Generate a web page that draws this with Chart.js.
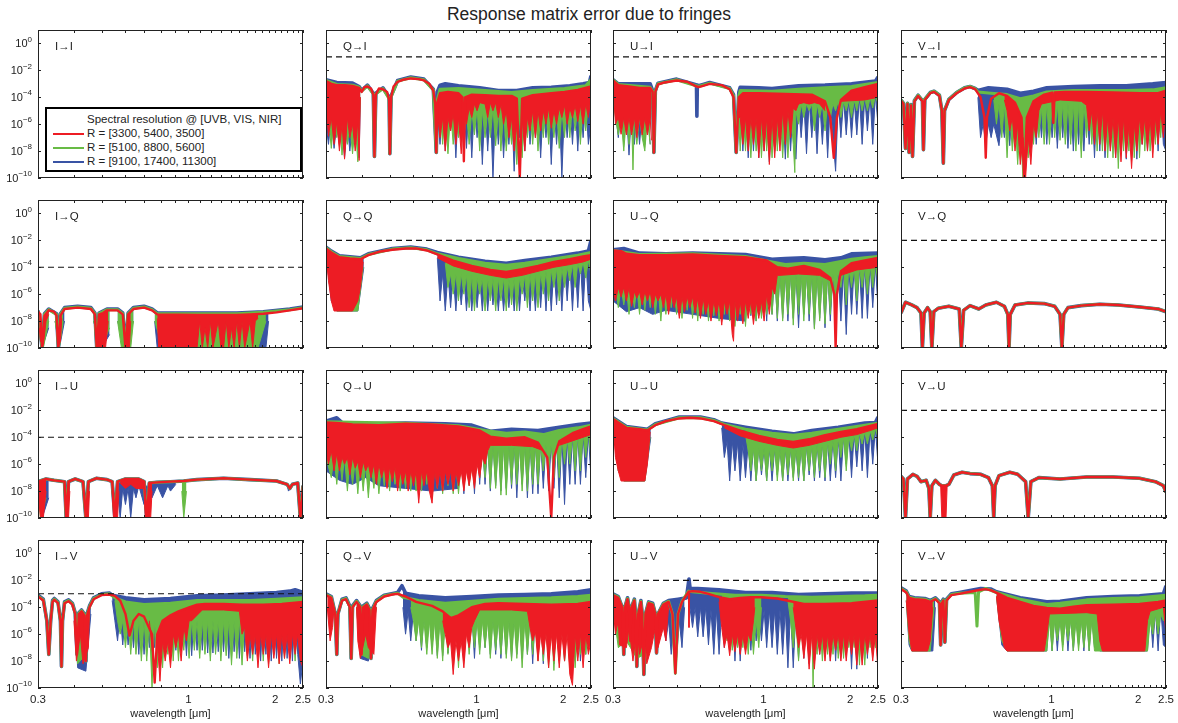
<!DOCTYPE html>
<html>
<head>
<meta charset="utf-8">
<script src="https://cdn.jsdelivr.net/npm/chart.js@4.4.0/dist/chart.umd.min.js"></script>
<style>
  body { margin: 0; background: #fff; width: 1178px; height: 723px; position: relative; overflow: hidden;
         font-family: "Liberation Sans", Arial, sans-serif; color: #222; }
  canvas { position: absolute; }
  #title { position: absolute; left: 0; top: 4px; width: 1178px; text-align: center; font-size: 17.5px; }
  #legend { position: absolute; left: 45px; top: 107px; width: 257px; height: 65px; box-sizing: border-box;
            border: 2px solid #000; background: #fff; font-size: 11.5px; z-index: 5; }
  #legend div { position: absolute; left: 40px; white-space: nowrap; line-height: 14px; }
  #legend span { position: absolute; left: 6px; width: 31px; height: 2px; }
</style>
</head>
<body>
<div id="title">Response matrix error due to fringes</div>
<div id="legend">
  <div style="top:3px">Spectral resolution @ [UVB, VIS, NIR]</div>
  <span style="top:24px;background:rgb(237,28,36)"></span><div style="top:17px">R = [3300, 5400, 3500]</div>
  <span style="top:38px;background:rgb(104,187,69)"></span><div style="top:31px">R = [5100, 8800, 5600]</div>
  <span style="top:52px;background:rgb(57,83,164)"></span><div style="top:45px">R = [9100, 17400, 11300]</div>
</div>
<script>
// panel names, row = output Stokes, column = input Stokes
const LABELS = ['I→I','Q→I','U→I','V→I','I→Q','Q→Q','U→Q','V→Q','I→U','Q→U','U→U','V→U','I→V','Q→V','U→V','V→V'];
// dashed tolerance level per panel, log10
const DASH_EXP = [null,-1,-1,-1, -4,-2,-2,-2, -4,-2,-2,-2, -3,-2,-2,-2];
const XTICKS = [0.3,0.4,0.5,0.6,0.7,0.8,0.9,1,1.1,1.2,1.3,1.4,1.5,1.6,1.7,1.8,1.9,2,2.1,2.2,2.3,2.4,2.5];
const XLABELS = [0.3, 1, 2, 2.5];
const YTICK_EXP = [0,-2,-4,-6,-8,-10];

// [wavelength um, log10 error]; *_t = upper envelope, *_b = lower edge of the fringe forest (null = gap)
const QI_rt = [[0.300,-2.8],[0.313,-3.0],[0.327,-3.1],[0.348,-3.1],[0.371,-3.15],[0.391,-3.3],[0.399,-3.6],[0.408,-3.25],[0.418,-3.2],[0.430,-3.35],[0.438,-3.8],[0.442,-8.4],[0.447,-3.8],[0.458,-3.35],[0.473,-3.4],[0.489,-3.6],[0.497,-4.2],[0.500,-8.2],[0.505,-4.0],[0.515,-3.2],[0.532,-2.85],[0.555,-2.7],[0.591,-2.6],[0.630,-2.65],[0.657,-2.75],[0.686,-3.0],[0.708,-3.5],[0.719,-4.5],[0.725,-8.1],[0.731,-4.4],[0.747,-3.7],[0.796,-3.6],[0.866,-3.7],[0.894,-4.0],[0.904,-8.75],[0.913,-4.0],[0.963,-3.8],[1.071,-3.85],[1.191,-3.9],[1.324,-3.9],[1.381,-4.1],[1.414,-10],[1.441,-4.1],[1.568,-3.85],[1.819,-3.7],[2.023,-3.6],[2.249,-3.45],[2.500,-3.2]];
const QI_rb = [[0.300,-4.5],[0.306,-6.9],[0.313,-5.5],[0.320,-7.5],[0.327,-5.8],[0.334,-8.0],[0.341,-6.0],[0.348,-8.6],[0.356,-5.5],[0.363,-7.0],[0.371,-6.0],[0.379,-8.0],[0.387,-5.8],[0.391,-8.7],[0.395,-4.0],[0.398,null],
  [0.731,-5],[0.747,-7.0],[0.763,-5.5],[0.779,-8.0],[0.796,-5.5],[0.813,-6.5],[0.830,-5.2],[0.848,-7.5],[0.866,-5.5],[0.885,-8.2],[0.904,-5.0],[0.923,-6.0],[0.943,-4.8],[0.963,-5.5],[0.984,-4.5],[1.005,-5.0],[1.026,-4.4],[1.071,-4.5],[1.094,-5.5],[1.117,-4.4],[1.141,-5.0],[1.166,-4.4],[1.191,-5.5],[1.216,-4.5],[1.242,-6.0],[1.269,-5.0],[1.296,-7.0],[1.324,-5.5],[1.352,-8.0],[1.381,-6.0],[1.411,-9.0],[1.441,-5.5],[1.472,-8.0],[1.503,-5.5],[1.535,-6.5],[1.568,-5.0],[1.602,-7.0],[1.636,-5.0],[1.671,-6.5],[1.707,-5.0],[1.744,-6.0],[1.781,-4.8],[1.819,-6.3],[1.858,-5.0],[1.898,-6.0],[1.939,-4.8],[1.980,-5.5],[2.023,-4.6],[2.066,-6.0],[2.110,-4.8],[2.156,-5.5],[2.202,-4.6],[2.249,-5.8],[2.297,-4.6],[2.347,-6.0],[2.397,-4.5],[2.448,-5.5],[2.500,-4.0]];
const QI_gt = [[0.300,-2.75],[0.327,-3.05],[0.371,-3.1],[0.391,-3.25],[0.399,-3.55],[0.418,-3.15],[0.438,-3.75],[0.442,-8.4],[0.447,-3.75],[0.473,-3.35],[0.497,-4.1],[0.500,-8.2],[0.505,-3.95],[0.532,-2.8],[0.591,-2.55],[0.657,-2.7],[0.708,-3.45],[0.725,-8.1],[0.731,-4.2],[0.747,-3.4],[0.866,-3.35],[1.071,-3.5],[1.324,-3.65],[1.568,-3.5],[2.023,-3.35],[2.397,-3.15],[2.500,-2.7]];
const QI_gb = [[0.300,-5.0],[0.306,-5.5],[0.313,-7.8],[0.320,-5.5],[0.327,-7.0],[0.334,-5.5],[0.341,-8.3],[0.348,-6.0],[0.356,-7.5],[0.363,-6.0],[0.371,-8.2],[0.379,-6.0],[0.387,-8.8],[0.395,-4.0],[0.398,null],
  [0.731,-5],[0.747,-5.0],[0.763,-7.5],[0.779,-5.0],[0.796,-8.2],[0.813,-5.0],[0.830,-7.5],[0.848,-5.2],[0.866,-7.0],[0.885,-5.0],[0.904,-7.0],[0.923,-5.0],[0.943,-7.5],[0.963,-5.0],[0.984,-6.8],[1.005,-4.8],[1.026,-8.0],[1.048,-5.0],[1.071,-7.0],[1.094,-5.0],[1.117,-7.0],[1.141,-4.8],[1.166,-7.6],[1.191,-5.0],[1.216,-8.0],[1.242,-5.0],[1.269,-8.0],[1.296,-5.5],[1.324,-7.5],[1.352,-5.5],[1.381,-9.0],[1.411,-5.5],[1.441,-8.5],[1.472,-5.0],[1.503,-7.0],[1.535,-5.0],[1.568,-7.5],[1.602,-4.8],[1.636,-8.0],[1.671,-5.0],[1.707,-7.0],[1.744,-4.8],[1.781,-7.5],[1.819,-5.0],[1.858,-7.0],[1.898,-4.8],[1.939,-7.8],[1.980,-5.0],[2.023,-7.0],[2.066,-4.6],[2.110,-7.0],[2.156,-4.6],[2.202,-6.5],[2.249,-4.6],[2.297,-7.5],[2.347,-4.5],[2.397,-6.5],[2.448,-4.5],[2.500,-5]];
const QI_bt = [[0.300,-2.7],[0.327,-2.9],[0.371,-2.95],[0.391,-3.2],[0.399,-3.5],[0.418,-3.1],[0.438,-3.7],[0.442,-8.4],[0.447,-3.7],[0.473,-3.3],[0.497,-4.0],[0.500,-8.2],[0.505,-3.9],[0.532,-2.75],[0.591,-2.5],[0.657,-2.65],[0.708,-3.4],[0.725,-8.1],[0.731,-3.6],[0.747,-3.1],[0.779,-3.0],[0.866,-3.15],[1.026,-3.3],[1.191,-3.5],[1.381,-3.5],[1.568,-3.3],[1.819,-3.25],[2.110,-3.15],[2.347,-3.0],[2.470,-2.9],[2.500,-2.4]];
const QI_bb = [[0.300,-6],[0.306,-7.5],[0.313,-5.5],[0.320,-7.8],[0.327,-6],[0.334,-7.5],[0.341,-6],[0.348,-8.5],[0.356,-6],[0.363,-8.0],[0.371,-6],[0.379,-7.5],[0.387,-6],[0.391,-8.5],[0.395,-4],[0.398,null],
  [0.731,-5],[0.747,-7.5],[0.763,-4.5],[0.779,-8.0],[0.796,-4.5],[0.813,-6.5],[0.830,-4.5],[0.848,-8.5],[0.866,-4.5],[0.885,-7.0],[0.904,-4.5],[0.923,-7.8],[0.943,-4.5],[0.963,-8.5],[0.984,-4.5],[1.005,-7.0],[1.026,-4.3],[1.048,-9.0],[1.071,-4.5],[1.094,-8.0],[1.117,-4.5],[1.141,-10],[1.166,-4.5],[1.191,-7.5],[1.216,-4.5],[1.242,-8.5],[1.269,-4.5],[1.296,-7.5],[1.324,-4.5],[1.352,-9.5],[1.381,-4.5],[1.411,-7.0],[1.441,-4.5],[1.472,-8.0],[1.503,-4.5],[1.535,-7.5],[1.568,-4.5],[1.602,-7.0],[1.636,-4.5],[1.671,-8.5],[1.707,-4.5],[1.744,-7.0],[1.781,-4.5],[1.819,-9.0],[1.858,-4.5],[1.898,-7.5],[1.939,-4.5],[1.980,-10],[2.023,-4.5],[2.066,-7.0],[2.110,-4.3],[2.156,-7.5],[2.202,-4.3],[2.249,-8.0],[2.297,-4.3],[2.347,-7.0],[2.397,-4.2],[2.448,-7.5],[2.500,-6]];

const UI_rt = [[0.300,-2.75],[0.313,-3.1],[0.341,-3.2],[0.371,-3.3],[0.404,-3.3],[0.412,-3.6],[0.416,-8.1],[0.421,-3.6],[0.430,-3.05],[0.453,-2.9],[0.499,-2.75],[0.543,-2.85],[0.579,-3.15],[0.595,-3.25],[0.617,-3.15],[0.650,-3.0],[0.716,-3.1],[0.763,-3.4],[0.787,-4.0],[0.804,-8.1],[0.821,-4.0],[0.848,-3.7],[0.963,-3.7],[1.191,-3.75],[1.472,-3.8],[1.636,-4.3],[1.707,-5.5],[1.755,-8.5],[1.800,-5.5],[1.858,-4.2],[2.023,-3.5],[2.249,-3.25],[2.500,-3.0]];
const UI_rb = [[0.300,-3.0],[0.306,-6.0],[0.313,-5.5],[0.320,-6.75],[0.327,-5.5],[0.334,-6.8],[0.341,-5.5],[0.348,-6.8],[0.356,-5.5],[0.363,-7.0],[0.371,-5.5],[0.379,-6.8],[0.387,-5.5],[0.395,-6.8],[0.404,-5.5],[0.408,-7.2],[0.412,null],
  [0.821,-5.5],[0.830,-5.5],[0.848,-7.5],[0.866,-5.5],[0.885,-8.0],[0.904,-5.5],[0.923,-7.5],[0.943,-5.5],[0.963,-8.5],[0.984,-5.5],[1.005,-8.0],[1.026,-5.5],[1.048,-9.0],[1.071,-5.5],[1.094,-8.5],[1.117,-5.5],[1.141,-8.0],[1.166,-5.0],[1.191,-7.5],[1.216,-5.0],[1.242,-7.0],[1.269,-4.8],[1.296,-5.0],[1.324,-4.5],[1.381,-4.4],[1.441,-4.5],[1.503,-4.4],[1.568,-4.5],[1.636,-5.0],[1.680,null],[1.858,-4.3],[2.249,-4.2],[2.500,-4.0]];
const UI_gt = [[0.300,-2.7],[0.313,-3.05],[0.404,-3.25],[0.412,-3.55],[0.416,-8.1],[0.421,-3.55],[0.430,-3.0],[0.499,-2.7],[0.595,-3.2],[0.650,-2.95],[0.763,-3.35],[0.787,-3.9],[0.804,-8.1],[0.821,-3.9],[0.830,-3.5],[1.071,-3.55],[1.324,-3.4],[1.636,-3.3],[2.023,-3.2],[2.500,-2.9]];
const UI_gb = [[0.300,-4],[0.306,-5.5],[0.313,-6.8],[0.320,-5.5],[0.327,-8.0],[0.334,-5.5],[0.341,-7.5],[0.348,-5.5],[0.352,-9.4],[0.356,-5.5],[0.363,-7.5],[0.371,-5.5],[0.379,-7.0],[0.387,-8.0],[0.395,-5.5],[0.404,-7.5],[0.412,null],
  [0.821,-6],[0.830,-8.0],[0.848,-5.0],[0.866,-8.0],[0.885,-5.0],[0.904,-8.5],[0.923,-5.0],[0.943,-8.0],[0.963,-5.0],[0.984,-8.5],[1.005,-5.0],[1.026,-8.0],[1.048,-5.0],[1.071,-8.5],[1.094,-5.0],[1.117,-8.0],[1.141,-5.0],[1.166,-8.5],[1.191,-5.0],[1.216,-8.5],[1.242,-5.0],[1.269,-7.5],[1.285,-9.6],[1.296,-5.0],[1.324,-6.0],[1.352,-4.5],[1.381,-5.5],[1.411,-4.5],[1.441,-5.0],[1.472,-4.5],[1.503,-6.5],[1.535,-4.5],[1.568,-5.5],[1.602,-4.5],[1.636,-6.5],[1.671,-4.5],[1.707,-5.5],[1.744,-4.5],[1.781,-5.0],[1.819,-4.3],[1.858,-5.5],[1.898,-4.3],[1.939,-5.0],[1.980,-4.2],[2.023,-5.5],[2.066,-4.2],[2.110,-5.0],[2.156,-4.0],[2.202,-5.0],[2.249,-4.0],[2.297,-5.0],[2.347,-4.0],[2.397,-4.8],[2.448,-3.9],[2.500,-4.5]];
const UI_bt = [[0.300,-2.7],[0.313,-3.0],[0.404,-3.0],[0.412,-3.5],[0.416,-8.1],[0.421,-3.5],[0.430,-2.95],[0.499,-2.65],[0.579,-3.05],[0.585,-3.1],[0.587,-5.4],[0.589,-3.1],[0.595,-3.15],[0.617,-3.05],[0.650,-2.9],[0.763,-3.3],[0.787,-3.8],[0.804,-8.1],[0.821,-3.6],[0.830,-3.25],[0.963,-3.3],[1.071,-3.35],[1.324,-3.15],[1.636,-3.1],[2.023,-3.0],[2.448,-2.8],[2.500,-2.5]];
const UI_bb = [[0.300,-4],[0.306,-5.0],[0.313,-7.0],[0.320,-5.0],[0.327,-7.0],[0.334,-5.0],[0.341,-8.3],[0.348,-5.0],[0.356,-7.5],[0.363,-5.0],[0.371,-7.5],[0.379,-5.0],[0.387,-7.5],[0.395,-5.0],[0.404,-7.5],[0.412,null],
  [0.821,-6],[0.830,-4.5],[0.848,-8.0],[0.866,-4.5],[0.885,-8.5],[0.904,-4.5],[0.923,-8.0],[0.943,-4.5],[0.963,-8.5],[0.984,-4.5],[1.005,-8.0],[1.026,-4.5],[1.048,-8.8],[1.071,-4.5],[1.094,-8.0],[1.117,-4.5],[1.141,-7.5],[1.166,-4.5],[1.191,-8.6],[1.216,-4.5],[1.242,-8.0],[1.269,-4.5],[1.296,-8.6],[1.324,-4.5],[1.352,-7.0],[1.381,-4.3],[1.411,-8.2],[1.441,-4.3],[1.472,-7.0],[1.503,-4.3],[1.535,-8.2],[1.568,-4.3],[1.602,-7.5],[1.636,-4.3],[1.671,-8.5],[1.707,-4.3],[1.744,-7.0],[1.781,-9.5],[1.819,-4.3],[1.858,-7.0],[1.898,-4.2],[1.939,-6.8],[1.980,-4.2],[2.023,-7.0],[2.066,-4.2],[2.110,-6.8],[2.156,-4.0],[2.202,-7.5],[2.249,-4.0],[2.297,-6.5],[2.347,-4.0],[2.397,-7.5],[2.448,-3.8],[2.500,-6]];

const VI_rt = [[0.300,-4.25],[0.306,-4.5],[0.311,-7.8],[0.316,-4.5],[0.320,-8.1],[0.325,-4.6],[0.329,-8.4],[0.334,-4.3],[0.344,-3.9],[0.356,-4.3],[0.359,-7.9],[0.363,-4.2],[0.379,-3.7],[0.391,-3.6],[0.408,-3.9],[0.416,-5],[0.421,-8.9],[0.425,-5],[0.440,-4.2],[0.468,-3.7],[0.499,-3.35],[0.521,-3.25],[0.543,-3.4],[0.567,-4.0],[0.585,-5.5],[0.591,-8.5],[0.597,-5.5],[0.617,-4.1],[0.657,-3.7],[0.701,-3.9],[0.747,-4.4],[0.787,-5.5],[0.804,-10],[0.821,-5.5],[0.866,-4.3],[0.943,-3.8],[1.005,-3.65],[1.015,-5.9],[1.026,-3.65],[1.117,-3.6],[1.324,-3.6],[1.636,-3.65],[2.023,-3.7],[2.347,-3.7],[2.500,-3.5]];
const VI_rb = [[0.686,-4.2],[0.701,-5.0],[0.716,-6.5],[0.731,-5.5],[0.747,-8.0],[0.763,-6.0],[0.779,-9.0],[0.796,-7.0],[0.813,-10],[0.830,-7.0],[0.848,-9.0],[0.866,-6.0],[0.885,-7.0],[0.904,-5.0],[0.923,-4.5],[1.071,-4.2],[1.269,-4.3],[1.324,-4.6],[1.352,-6.5],[1.381,-5.0],[1.411,-7.5],[1.441,-5.0],[1.472,-7.5],[1.503,-5.0],[1.535,-8.0],[1.568,-5.5],[1.602,-8.0],[1.636,-5.5],[1.671,-8.5],[1.707,-5.5],[1.744,-8.8],[1.781,-5.5],[1.819,-8.5],[1.858,-6.0],[1.898,-9.3],[1.939,-6.0],[1.980,-8.0],[2.023,-5.5],[2.066,-7.5],[2.110,-5.5],[2.156,-8.0],[2.202,-5.5],[2.249,-8.5],[2.297,-5.5],[2.347,-7.5],[2.397,-5.0],[2.448,-7],[2.500,-4.5]];
const VI_gt = [[0.300,-4.2],[0.306,-4.45],[0.311,-7.8],[0.316,-4.45],[0.320,-8.1],[0.325,-4.55],[0.329,-8.4],[0.334,-4.25],[0.344,-3.85],[0.356,-4.25],[0.359,-7.9],[0.363,-4.15],[0.379,-3.65],[0.391,-3.55],[0.408,-3.85],[0.416,-5],[0.421,-8.9],[0.425,-5],[0.440,-4.15],[0.468,-3.65],[0.499,-3.3],[0.521,-3.2],[0.543,-3.35],[0.555,-3.6],[0.617,-3.7],[0.701,-3.8],[0.779,-4.1],[0.866,-3.9],[0.963,-3.6],[1.191,-3.5],[1.472,-3.5],[1.819,-3.5],[2.249,-3.45],[2.500,-3.3]];
const VI_gb = [[0.630,-4.2],[0.644,-6.0],[0.657,-4.5],[0.672,-7.0],[0.686,-4.5],[0.701,-8.5],[0.716,-5.0],[0.731,-8.0],[0.747,-5.5],[0.763,-9.0],[0.779,-6.0],[0.796,-10],[0.813,-6.0],[0.830,-8.5],[0.848,-5.5],[0.866,-7.5],[0.885,-5.0],[0.904,-7.0],[0.923,-4.8],[0.943,-7.5],[0.963,-4.5],[0.984,-7.5],[1.005,-4.5],[1.026,-7.0],[1.048,-4.5],[1.071,-7.2],[1.094,-4.5],[1.117,-7.5],[1.141,-4.5],[1.166,-7.5],[1.191,-4.5],[1.216,-8.0],[1.242,-4.5],[1.269,-8.5],[1.296,-4.5],[1.324,-7.0],[1.352,-4.5],[1.381,-7.5],[1.411,-4.5],[1.441,-8.0],[1.472,-4.5],[1.503,-8.0],[1.535,-4.5],[1.568,-8.5],[1.602,-4.5],[1.636,-8.5],[1.671,-4.5],[1.707,-9.3],[1.744,-4.5],[1.781,-8.0],[1.819,-4.5],[1.858,-8.0],[1.898,-4.5],[1.939,-8.5],[1.980,-4.5],[2.023,-8.5],[2.066,-4.5],[2.110,-8.0],[2.156,-4.5],[2.202,-8.0],[2.249,-4.5],[2.297,-7.5],[2.347,-4.3],[2.397,-7.0],[2.448,-4.2],[2.500,-6]];
const VI_bt = [[0.300,-4.2],[0.306,-4.45],[0.311,-7.8],[0.316,-4.45],[0.320,-8.1],[0.325,-4.55],[0.329,-8.4],[0.334,-4.25],[0.344,-3.85],[0.356,-4.25],[0.359,-7.9],[0.363,-4.15],[0.379,-3.65],[0.391,-3.55],[0.408,-3.85],[0.416,-5],[0.421,-8.9],[0.425,-5],[0.440,-4.15],[0.468,-3.65],[0.499,-3.3],[0.521,-3.2],[0.543,-3.35],[0.555,-3.5],[0.604,-3.3],[0.701,-3.4],[0.779,-3.7],[0.866,-3.55],[0.963,-3.3],[1.191,-3.2],[1.472,-3.15],[1.819,-3.15],[2.249,-3.0],[2.500,-2.9]];
const VI_bb = [[0.555,-4],[0.567,-7.0],[0.579,-6.0],[0.591,-7.5],[0.604,-6.0],[0.617,-7.0],[0.630,-6.0],[0.657,-7.6],[0.672,-5.5],[0.686,-7.0],[0.701,-4.5],[0.716,-7.6],[0.731,-4.5],[0.747,-7.0],[0.763,-4.8],[0.779,-7.5],[0.796,-4.8],[0.813,-8.0],[0.830,-4.8],[0.848,-7.0],[0.866,-4.5],[0.885,-7.5],[0.904,-4.5],[0.923,-7.0],[0.943,-4.3],[0.963,-7.5],[0.984,-4.3],[1.005,-7.0],[1.026,-4.2],[1.048,-7.8],[1.071,-4.2],[1.094,-7.0],[1.117,-4.2],[1.141,-7.8],[1.166,-4.2],[1.191,-8.0],[1.216,-4.2],[1.242,-7.5],[1.269,-4.2],[1.296,-8.0],[1.324,-4.2],[1.352,-7.5],[1.381,-4.2],[1.411,-8.5],[1.441,-4.2],[1.472,-8.0],[1.503,-4.2],[1.535,-8.5],[1.568,-4.2],[1.602,-8.0],[1.636,-4.2],[1.671,-8.5],[1.707,-4.2],[1.744,-8.0],[1.781,-4.2],[1.819,-8.6],[1.858,-4.0],[1.898,-8.0],[1.939,-4.0],[1.980,-8.6],[2.023,-4.0],[2.066,-7.5],[2.110,-4.0],[2.156,-8.0],[2.202,-4.0],[2.249,-7.5],[2.297,-3.9],[2.347,-8.0],[2.397,-3.9],[2.448,-7.5],[2.500,-8.0]];

const IQ_rt = [[0.300,-7.3],[0.306,-7.5],[0.310,-10],[0.316,-7.6],[0.327,-7.2],[0.341,-7.3],[0.348,-7.6],[0.353,-10],[0.359,-7.6],[0.371,-7.1],[0.412,-7.0],[0.458,-7.1],[0.473,-7.5],[0.480,-10],[0.489,-7.5],[0.505,-7.4],[0.521,-7.2],[0.567,-7.2],[0.591,-7.5],[0.604,-10],[0.617,-7.5],[0.644,-7.1],[0.701,-7.0],[0.747,-7.2],[0.779,-7.5],[1.071,-7.55],[1.472,-7.55],[1.636,-7.5],[1.819,-7.45],[2.023,-7.35],[2.249,-7.2],[2.500,-7.05]];
const IQ_rb = [[0.303,-8.5],[0.306,-9.5],[0.313,-9.8],[0.320,-8.0],[0.327,-7.5],[0.330,null],[0.348,-8],[0.352,-10],[0.359,-9.5],[0.363,-7.8],[0.366,null],[0.473,-8.0],[0.483,-10],[0.499,-10],[0.515,-10],[0.526,-8],[0.530,null],[0.597,-8],[0.604,-10],[0.623,-10],[0.630,-8],[0.635,null],[0.779,-7.8],[0.788,-10],[0.866,-10],[0.963,-10],[1.071,-10],[1.094,-8.0],[1.117,-10],[1.141,-8.5],[1.166,-10],[1.191,-8.0],[1.216,-10],[1.242,-9],[1.269,-8.0],[1.296,-10],[1.324,-10],[1.352,-8.0],[1.381,-10],[1.411,-8.5],[1.441,-10],[1.472,-8.0],[1.503,-10],[1.535,-8.0],[1.568,-10],[1.602,-9.0],[1.636,-8.0],[1.671,-10],[1.707,-8.0],[1.744,-7.8]];
const IQ_gt = [[0.300,-7.25],[0.310,-10],[0.316,-7.5],[0.327,-7.15],[0.348,-7.5],[0.353,-10],[0.359,-7.5],[0.371,-7.05],[0.412,-6.95],[0.458,-7.05],[0.473,-7.45],[0.480,-10],[0.489,-7.45],[0.521,-7.15],[0.567,-7.15],[0.591,-7.45],[0.604,-10],[0.617,-7.45],[0.644,-7.05],[0.701,-6.95],[0.747,-7.15],[0.779,-7.45],[1.071,-7.45],[1.472,-7.45],[1.819,-7.35],[2.249,-7.15],[2.500,-7.0]];
const IQ_gb = [[0.300,-8],[0.313,-10],[0.327,-8.0],[0.330,null],[0.344,-8],[0.356,-10],[0.367,-8],[0.370,null],[0.468,-8],[0.499,-10],[0.532,-8.5],[0.536,null],[0.567,-8],[0.585,-10],[0.630,-10],[0.644,-8],[0.648,null],[0.763,-8],[0.813,-10],[1.744,-10],[1.858,-8]];
const IQ_bt = [[0.300,-7.2],[0.310,-10],[0.316,-7.45],[0.327,-7.1],[0.348,-7.45],[0.353,-10],[0.359,-7.45],[0.371,-7.0],[0.412,-6.9],[0.458,-7.0],[0.473,-7.4],[0.480,-10],[0.489,-7.4],[0.521,-7.1],[0.567,-7.1],[0.591,-7.4],[0.604,-10],[0.617,-7.4],[0.644,-7.0],[0.701,-6.9],[0.747,-7.1],[0.779,-7.4],[1.071,-7.4],[1.472,-7.4],[1.819,-7.3],[2.249,-7.1],[2.500,-6.95]];
const IQ_bb = [[0.300,-8],[0.310,-10],[0.327,-8.5],[0.330,null],[0.344,-8],[0.356,-10],[0.371,-8],[0.374,null],[0.468,-8],[0.499,-10],[0.532,-9],[0.536,null],[0.567,-8],[0.604,-10],[0.644,-8],[0.648,null],[0.763,-8],[0.779,-10],[1.858,-10],[1.898,-8]];

const QQ_rt = [[0.300,-2.6],[0.313,-2.9],[0.334,-3.25],[0.363,-3.35],[0.395,-3.4],[0.421,-3.1],[0.458,-2.85],[0.510,-2.7],[0.567,-2.6],[0.617,-2.6],[0.672,-2.75],[0.731,-3.05],[0.830,-3.5],[0.963,-3.9],[1.117,-4.2],[1.269,-4.35],[1.441,-4.15],[1.636,-3.9],[1.858,-3.6],[2.110,-3.4],[2.347,-3.2],[2.500,-3.1]];
const QQ_rb = [[0.300,-3.0],[0.306,-5.0],[0.313,-6.5],[0.320,-7.25],[0.371,-7.25],[0.387,-6.5],[0.395,-5.5],[0.404,-3.6],[0.410,null],[0.731,-3.3],[0.830,-3.9],[0.963,-4.3],[1.117,-4.6],[1.269,-4.8],[1.441,-4.6],[1.636,-4.3],[1.858,-4.0],[2.110,-3.8],[2.347,-3.6],[2.500,-3.4]];
const QQ_gt = [[0.300,-2.55],[0.313,-2.85],[0.334,-3.2],[0.395,-3.35],[0.421,-3.05],[0.510,-2.65],[0.591,-2.55],[0.672,-2.7],[0.731,-3.0],[0.866,-3.35],[1.071,-3.7],[1.269,-3.85],[1.472,-3.7],[1.819,-3.4],[2.249,-3.1],[2.500,-2.9]];
const QQ_gb = [[0.300,-3],[0.313,-6],[0.327,-7.25],[0.387,-7.25],[0.404,-4],[0.410,null],
  [0.779,-3.7],[0.796,-5.5],[0.813,-4.5],[0.830,-6.0],[0.848,-4.5],[0.866,-6.5],[0.885,-4.5],[0.904,-6.0],[0.923,-4.6],[0.943,-7.0],[0.963,-4.6],[0.984,-7.25],[1.005,-4.8],[1.026,-6.0],[1.048,-4.8],[1.071,-7.25],[1.094,-4.8],[1.117,-6.5],[1.141,-4.8],[1.166,-7.25],[1.191,-4.8],[1.216,-6.5],[1.242,-4.8],[1.269,-7.25],[1.296,-4.8],[1.324,-6.8],[1.352,-4.8],[1.381,-7.25],[1.411,-4.8],[1.441,-6.0],[1.472,-4.6],[1.503,-7.0],[1.535,-4.5],[1.568,-6.5],[1.602,-4.5],[1.636,-7.0],[1.671,-4.4],[1.707,-6.0],[1.744,-4.3],[1.781,-6.5],[1.819,-4.2],[1.858,-5.5],[1.898,-4.1],[1.939,-6.5],[1.980,-4.0],[2.023,-5.5],[2.066,-4.0],[2.110,-5.0],[2.156,-3.8],[2.202,-5.5],[2.249,-3.7],[2.297,-4.5],[2.347,-3.6],[2.397,-4.8],[2.448,-3.5],[2.500,-4.5]];
const QQ_bt = [[0.300,-2.5],[0.313,-2.8],[0.334,-3.15],[0.395,-3.3],[0.421,-3.0],[0.510,-2.6],[0.591,-2.5],[0.672,-2.65],[0.731,-2.9],[0.866,-3.25],[1.071,-3.55],[1.269,-3.7],[1.472,-3.5],[1.819,-3.25],[2.249,-2.95],[2.448,-2.8],[2.500,-2.0]];
const QQ_bb = [[0.300,-3],[0.313,-6.5],[0.327,-7.25],[0.387,-7.25],[0.406,-4],[0.410,null],
  [0.731,-3.3],[0.747,-6.5],[0.763,-4.5],[0.779,-7.25],[0.796,-4.5],[0.813,-7.0],[0.830,-4.5],[0.848,-7.25],[0.866,-4.6],[0.885,-6.8],[0.904,-4.6],[0.923,-7.25],[0.943,-4.8],[0.963,-7.25],[0.984,-4.8],[1.005,-7.0],[1.026,-4.8],[1.048,-7.25],[1.071,-4.8],[1.094,-7.25],[1.117,-4.8],[1.141,-6.8],[1.166,-4.8],[1.191,-7.25],[1.216,-4.8],[1.242,-7.25],[1.269,-4.8],[1.296,-7.0],[1.324,-4.8],[1.352,-7.25],[1.381,-4.6],[1.411,-7.25],[1.441,-4.6],[1.472,-6.5],[1.503,-4.5],[1.535,-7.25],[1.568,-4.4],[1.602,-7.25],[1.636,-4.3],[1.671,-7.0],[1.707,-4.2],[1.744,-7.25],[1.781,-4.1],[1.819,-7.25],[1.858,-4.0],[1.898,-6.8],[1.939,-3.9],[1.980,-7.25],[2.023,-3.8],[2.066,-6.5],[2.110,-3.7],[2.156,-7.25],[2.202,-3.6],[2.249,-7.0],[2.297,-3.5],[2.347,-7.25],[2.397,-3.4],[2.448,-6.5],[2.500,-7.25]];

const UQ_rt = [[0.300,-2.75],[0.320,-2.8],[0.334,-3.0],[0.371,-3.1],[0.458,-3.1],[0.567,-3.05],[0.701,-3.15],[0.866,-3.25],[1.026,-3.5],[1.117,-4.0],[1.216,-4.1],[1.381,-3.9],[1.568,-4.2],[1.707,-4.8],[1.762,-6],[1.781,-10],[1.800,-6],[1.858,-4.3],[2.023,-3.7],[2.249,-3.5],[2.500,-3.3]];
const UQ_rb = [[0.300,-5.5],[0.306,-6.5],[0.313,-5.5],[0.320,-6.2],[0.327,-5.5],[0.334,-6.5],[0.341,-5.5],[0.348,-6.9],[0.356,-5.8],[0.363,-6.3],[0.371,-5.8],[0.379,-6.8],[0.387,-5.8],[0.395,-6.5],[0.404,-5.8],[0.412,-7.0],[0.421,-6.0],[0.430,-6.5],[0.440,-6.0],[0.449,-7.0],[0.458,-6.0],[0.468,-7.5],[0.478,-6.0],[0.489,-7.0],[0.499,-6.2],[0.510,-7.8],[0.521,-6.2],[0.532,-7.3],[0.543,-6.2],[0.555,-7.0],[0.567,-6.2],[0.579,-7.4],[0.591,-6.3],[0.604,-7.8],[0.617,-6.3],[0.630,-7.5],[0.644,-6.5],[0.657,-8.0],[0.672,-6.5],[0.686,-7.6],[0.701,-6.5],[0.716,-8.3],[0.731,-6.5],[0.747,-7.5],[0.763,-6.5],[0.779,-9.0],[0.787,-9.5],[0.796,-6.5],[0.813,-8.0],[0.830,-6.5],[0.848,-8.2],[0.866,-6.5],[0.885,-7.8],[0.904,-6.5],[0.923,-8.25],[0.943,-6.5],[0.963,-7.8],[0.984,-6.5],[1.005,-8.0],[1.026,-6.0],[1.048,-7.5],[1.071,-5.5],[1.094,-6.0],[1.117,-4.6],[1.141,-4.6],[1.324,-4.5],[1.568,-4.6],[1.707,-5.0],[1.740,null],[1.858,-4.6],[2.110,-4.2],[2.500,-4.0]];
const UQ_gt = [[0.300,-2.75],[0.371,-3.05],[0.567,-3.0],[0.866,-3.2],[1.071,-3.6],[1.191,-3.8],[1.381,-3.7],[1.636,-3.8],[1.819,-3.6],[2.023,-3.4],[2.249,-3.3],[2.500,-3.2]];
const UQ_gb = [[0.300,-6],[0.306,-5.5],[0.313,-7.0],[0.320,-5.5],[0.327,-6.8],[0.334,-5.5],[0.341,-7.5],[0.348,-5.5],[0.356,-7.0],[0.363,-5.5],[0.371,-7.5],[0.379,-5.5],[0.387,-7.2],[0.395,-5.5],[0.404,-7.0],[0.412,-5.5],[0.421,-7.5],[0.430,-5.5],[0.440,-8.0],[0.449,-5.5],[0.458,-7.5],[0.468,-5.5],[0.478,-7.0],[0.489,-5.5],[0.499,-7.5],[0.510,-5.5],[0.521,-7.8],[0.532,-5.5],[0.543,-7.2],[0.555,-5.5],[0.567,-7.8],[0.579,-5.5],[0.591,-8.0],[0.604,-5.5],[0.617,-7.5],[0.630,-5.5],[0.644,-8.0],[0.657,-5.5],[0.672,-7.6],[0.686,-5.5],[0.701,-8.0],[0.716,-5.5],[0.731,-7.5],[0.747,-5.5],[0.763,-8.0],[0.779,-5.5],[0.796,-8.4],[0.813,-5.5],[0.830,-7.5],[0.848,-5.5],[0.866,-8.4],[0.885,-5.5],[0.904,-7.5],[0.923,-5.5],[0.943,-8.0],[0.963,-5.5],[0.984,-7.8],[1.005,-5.5],[1.026,-7.5],[1.048,-5.0],[1.071,-7.5],[1.094,-4.5],[1.117,-7.8],[1.141,-4.5],[1.166,-8.0],[1.191,-4.5],[1.216,-7.5],[1.242,-4.5],[1.269,-8.3],[1.296,-4.5],[1.324,-7.5],[1.352,-4.5],[1.381,-8.0],[1.411,-4.5],[1.441,-7.5],[1.472,-4.5],[1.503,-8.6],[1.535,-4.5],[1.568,-8.0],[1.602,-4.5],[1.636,-8.2],[1.671,-4.5],[1.707,-7.5],[1.744,-4.5],[1.781,-6.5],[1.819,-4.3],[1.858,-5.5],[1.898,-4.0],[1.939,-6.8],[1.980,-4.0],[2.023,-5.5],[2.066,-4.0],[2.110,-6.5],[2.156,-4.0],[2.202,-5.5],[2.249,-4.0],[2.297,-6.0],[2.347,-3.8],[2.397,-5.5],[2.448,-3.8],[2.500,-5.0]];
const UQ_bt = [[0.300,-2.7],[0.327,-2.6],[0.371,-2.95],[0.458,-3.0],[0.567,-2.95],[0.701,-3.0],[0.866,-3.05],[1.071,-3.4],[1.191,-3.35],[1.381,-3.3],[1.636,-3.45],[1.858,-3.3],[2.023,-3.0],[2.500,-2.95]];
const UQ_bb = [[0.300,-6.5],[0.334,-7.3],[0.371,-7.0],[0.412,-7.5],[0.458,-7.2],[0.567,-7.5],[0.701,-7.8],[0.866,-8.0],[0.885,-4.5],[0.904,-7.6],[0.923,-4.5],[0.943,-8.0],[0.963,-4.3],[0.984,-7.5],[1.005,-4.3],[1.026,-8.0],[1.048,-4.3],[1.071,-7.5],[1.094,-4.3],[1.117,-8.0],[1.141,-4.3],[1.166,-7.8],[1.191,-4.3],[1.216,-8.0],[1.242,-4.3],[1.269,-7.8],[1.296,-4.3],[1.324,-8.5],[1.352,-4.3],[1.381,-7.5],[1.411,-4.3],[1.441,-8.0],[1.472,-4.3],[1.503,-8.5],[1.535,-4.3],[1.568,-7.8],[1.602,-4.3],[1.636,-8.5],[1.671,-4.3],[1.707,-8.0],[1.744,-4.3],[1.781,-8.5],[1.819,-4.3],[1.858,-8.0],[1.898,-4.3],[1.939,-9.0],[1.980,-4.0],[2.023,-7.5],[2.066,-4.0],[2.110,-7.5],[2.156,-4.0],[2.202,-7.8],[2.249,-3.8],[2.297,-7.8],[2.347,-3.8],[2.397,-7.0],[2.448,-3.8],[2.500,-7.0]];

const VQ_t = [[0.300,-7.4],[0.311,-6.6],[0.327,-6.8],[0.341,-7.0],[0.352,-7.4],[0.356,-10],[0.361,-7.4],[0.371,-7.0],[0.379,-7.3],[0.384,-10],[0.390,-7.3],[0.404,-7.05],[0.440,-6.9],[0.478,-7.1],[0.486,-10],[0.495,-7.2],[0.521,-6.85],[0.559,-7.1],[0.591,-6.8],[0.644,-6.6],[0.686,-6.9],[0.705,-7.5],[0.712,-10],[0.719,-7.5],[0.747,-6.8],[0.830,-6.65],[0.943,-6.7],[1.026,-6.9],[1.071,-7.5],[1.087,-10],[1.103,-7.5],[1.141,-7.0],[1.269,-6.85],[1.472,-6.75],[1.707,-6.8],[2.023,-6.95],[2.347,-7.1],[2.500,-7.3]];

const IU_t = [[0.300,-7.3],[0.320,-7.1],[0.341,-7.2],[0.371,-7.3],[0.376,-10],[0.383,-7.3],[0.404,-7.1],[0.430,-7.3],[0.440,-10],[0.449,-7.3],[0.478,-7.05],[0.521,-7.15],[0.543,-7.3],[0.555,-10],[0.567,-7.3],[0.604,-7.1],[0.672,-7.1],[0.701,-7.3],[0.716,-10],[0.731,-7.4],[0.779,-7.35],[0.866,-7.3],[0.963,-7.25],[1.071,-7.15],[1.324,-7.05],[1.636,-7.15],[2.023,-7.25],[2.202,-7.5],[2.249,-7.8],[2.297,-7.5],[2.397,-7.4],[2.448,-10],[2.500,-7.6]];
const IU_rb = [[0.300,-8],[0.306,-10],[0.313,-10],[0.320,-8],[0.323,null],[0.371,-8],[0.375,-10],[0.383,-10],[0.387,-8],[0.390,null],[0.435,-8],[0.440,-10],[0.449,-10],[0.453,-8],[0.457,null],[0.543,-8],[0.549,-10],[0.567,-10],[0.573,-8],[0.576,null],[0.579,-7.4],[0.604,-7.8],[0.630,-7.5],[0.657,-7.8],[0.701,-7.8],[0.708,-10],[0.739,-10],[0.747,-8]];
const IU_gb = [[0.300,-8],[0.306,-10],[0.320,-8.5],[0.323,null],[0.948,-8],[0.963,-10],[0.984,-8]];
const IU_bb = [[0.300,-8],[0.310,-10],[0.327,-8.5],[0.330,null],[0.567,-8],[0.579,-10],[0.591,-7.8],[0.604,-9],[0.617,-7.8],[0.630,-10],[0.644,-7.8],[0.657,-8.5],[0.672,-7.6],[0.701,-9],[0.716,-7.6],[0.747,-8.5],[0.779,-7.6],[0.813,-8.5],[0.848,-7.6],[0.866,-8.0],[0.904,-7.5],[0.910,null],[2.202,-7.5],[2.225,-8.0],[2.297,-7.6]];

const QU_rt = [[0.300,-2.9],[0.334,-2.95],[0.371,-3.05],[0.458,-3.1],[0.567,-3.0],[0.701,-3.05],[0.866,-3.2],[1.026,-3.5],[1.117,-3.95],[1.269,-4.1],[1.472,-4.0],[1.636,-4.4],[1.762,-5.5],[1.819,-10],[1.858,-5.5],[1.939,-4.3],[2.156,-3.7],[2.347,-3.4],[2.500,-3.2]];
const QU_rb = [[0.300,-5],[0.306,-6.0],[0.313,-5.0],[0.320,-6.5],[0.327,-5.2],[0.334,-6.5],[0.341,-5.5],[0.348,-6.0],[0.356,-5.5],[0.363,-6.8],[0.371,-5.5],[0.379,-6.3],[0.387,-5.8],[0.395,-7.0],[0.404,-5.8],[0.412,-6.5],[0.421,-6.0],[0.430,-7.0],[0.440,-6.0],[0.449,-7.5],[0.458,-6.0],[0.468,-7.0],[0.478,-6.2],[0.489,-7.8],[0.499,-6.2],[0.510,-7.3],[0.521,-6.2],[0.532,-8.0],[0.543,-6.5],[0.555,-7.5],[0.567,-6.5],[0.579,-8.0],[0.591,-6.5],[0.604,-7.6],[0.617,-6.5],[0.630,-8.9],[0.644,-6.5],[0.657,-7.6],[0.672,-6.5],[0.686,-8.0],[0.701,-8.9],[0.716,-6.5],[0.731,-7.8],[0.747,-6.5],[0.763,-8.0],[0.779,-6.5],[0.796,-7.5],[0.813,-6.5],[0.830,-8.0],[0.848,-6.5],[0.866,-7.6],[0.885,-6.5],[0.904,-8.0],[0.923,-6.5],[0.943,-7.6],[0.963,-6.3],[0.984,-7.8],[1.005,-6.0],[1.026,-7.0],[1.048,-5.5],[1.071,-6.0],[1.094,-5.0],[1.117,-4.6],[1.324,-4.6],[1.568,-4.7],[1.707,-5.0],[1.740,null],[1.939,-4.6],[2.202,-4.2],[2.500,-3.8]];
const QU_gt = [[0.300,-2.85],[0.567,-2.95],[0.866,-3.15],[1.071,-3.5],[1.269,-3.7],[1.472,-3.6],[1.707,-3.8],[1.939,-3.5],[2.249,-3.3],[2.500,-3.1]];
const QU_gb = [[0.300,-5.5],[0.313,-7.0],[0.320,-5.5],[0.327,-7.5],[0.334,-5.5],[0.341,-7.2],[0.348,-5.5],[0.356,-8.0],[0.363,-5.8],[0.371,-7.5],[0.379,-5.8],[0.387,-8.2],[0.395,-5.8],[0.404,-8.0],[0.412,-6.0],[0.421,-8.5],[0.430,-6.0],[0.440,-7.8],[0.449,-6.0],[0.458,-8.2],[0.468,-6.0],[0.478,-7.6],[0.489,-6.0],[0.499,-8.0],[0.510,-6.0],[0.521,-7.5],[0.532,-6.0],[0.543,-8.0],[0.555,-6.0],[0.567,-7.8],[0.579,-6.0],[0.591,-8.0],[0.604,-6.0],[0.617,-8.0],[0.630,-6.0],[0.644,-8.0],[0.657,-6.0],[0.672,-7.5],[0.686,-6.0],[0.701,-8.5],[0.716,-6.0],[0.731,-7.8],[0.747,-6.0],[0.763,-8.2],[0.779,-6.0],[0.796,-7.6],[0.813,-6.0],[0.830,-8.2],[0.848,-6.0],[0.866,-8.2],[0.885,-6.0],[0.904,-7.6],[0.923,-6.0],[0.943,-7.6],[0.963,-6.0],[0.984,-7.6],[1.005,-5.5],[1.026,-7.0],[1.048,-5.0],[1.071,-7.0],[1.094,-4.6],[1.117,-7.8],[1.141,-4.6],[1.166,-7.8],[1.191,-4.6],[1.216,-8.3],[1.242,-4.6],[1.269,-8.3],[1.296,-4.6],[1.324,-7.5],[1.352,-4.6],[1.381,-7.5],[1.411,-4.6],[1.441,-8.0],[1.472,-4.6],[1.503,-8.0],[1.535,-4.6],[1.568,-7.5],[1.602,-4.6],[1.636,-7.5],[1.671,-4.6],[1.707,-6.5],[1.744,-4.6],[1.781,-6.5],[1.819,-4.4],[1.858,-7.0],[1.898,-4.2],[1.939,-7.0],[1.980,-4.0],[2.023,-6.0],[2.066,-4.0],[2.110,-6.0],[2.156,-3.9],[2.202,-6.5],[2.249,-3.8],[2.297,-6.5],[2.347,-3.7],[2.397,-5.5],[2.448,-3.6],[2.500,-5.5]];
const QU_bt = [[0.300,-2.8],[0.327,-2.55],[0.341,-2.9],[0.412,-3.0],[0.567,-2.95],[0.779,-3.0],[0.963,-3.1],[1.117,-3.55],[1.324,-3.4],[1.636,-3.5],[1.939,-3.25],[2.249,-3.05],[2.500,-2.95]];
const QU_bb = [[0.300,-6.5],[0.334,-7.2],[0.371,-7.5],[0.412,-7.0],[0.458,-7.6],[0.567,-7.8],[0.701,-8.0],[0.866,-7.8],[0.885,-4.5],[0.904,-8.2],[0.923,-4.5],[0.943,-7.5],[0.963,-4.5],[0.984,-8.2],[1.005,-4.3],[1.026,-7.5],[1.048,-4.3],[1.071,-7.5],[1.094,-4.3],[1.117,-8.0],[1.141,-4.3],[1.166,-7.6],[1.191,-4.3],[1.216,-8.0],[1.242,-4.3],[1.269,-7.8],[1.296,-4.3],[1.324,-7.8],[1.352,-4.3],[1.381,-8.5],[1.411,-4.3],[1.441,-7.5],[1.472,-4.3],[1.503,-8.5],[1.535,-4.3],[1.568,-8.2],[1.602,-4.3],[1.636,-8.2],[1.671,-4.3],[1.707,-7.8],[1.744,-4.3],[1.781,-8.0],[1.819,-4.3],[1.858,-7.8],[1.898,-4.2],[1.939,-8.5],[1.980,-4.0],[2.023,-9.0],[2.066,-4.0],[2.110,-7.5],[2.156,-4.0],[2.202,-7.5],[2.249,-3.8],[2.297,-7.5],[2.347,-3.8],[2.397,-7.0],[2.448,-3.8],[2.500,-7.0]];

const UU_rt = [[0.300,-2.65],[0.313,-2.9],[0.334,-3.3],[0.371,-3.4],[0.395,-3.5],[0.421,-3.1],[0.458,-2.8],[0.510,-2.6],[0.555,-2.55],[0.604,-2.6],[0.672,-2.8],[0.731,-3.1],[0.830,-3.5],[0.963,-3.9],[1.117,-4.2],[1.269,-4.35],[1.441,-4.15],[1.636,-3.85],[1.858,-3.6],[2.110,-3.4],[2.347,-3.15],[2.500,-3.0]];
const UU_rb = [[0.300,-3.0],[0.306,-5.5],[0.313,-6.5],[0.320,-7.25],[0.387,-7.25],[0.395,-6.0],[0.404,-3.6],[0.410,null],[0.731,-3.3],[0.830,-3.9],[0.963,-4.3],[1.117,-4.6],[1.269,-4.8],[1.441,-4.6],[1.636,-4.3],[1.858,-4.0],[2.110,-3.8],[2.347,-3.5],[2.500,-3.3]];
const UU_gt = [[0.300,-2.6],[0.334,-3.25],[0.395,-3.45],[0.421,-3.05],[0.510,-2.55],[0.604,-2.55],[0.672,-2.75],[0.731,-3.05],[0.866,-3.4],[1.071,-3.7],[1.269,-3.85],[1.472,-3.7],[1.819,-3.4],[2.249,-3.1],[2.500,-2.95]];
const UU_gb = [[0.300,-3],[0.313,-6.5],[0.327,-7.25],[0.387,-7.25],[0.404,-4],[0.410,null],
  [0.866,-3.8],[0.885,-5.0],[0.904,-6.5],[0.923,-4.8],[0.943,-7.25],[0.963,-4.8],[0.984,-6.5],[1.005,-4.8],[1.026,-7.25],[1.048,-4.8],[1.071,-6.5],[1.094,-4.8],[1.117,-7.25],[1.141,-4.8],[1.166,-7.25],[1.191,-4.8],[1.216,-6.8],[1.242,-4.8],[1.269,-7.25],[1.296,-4.8],[1.324,-7.0],[1.352,-4.8],[1.381,-7.25],[1.411,-4.6],[1.441,-6.5],[1.472,-4.6],[1.503,-7.0],[1.535,-4.5],[1.568,-6.5],[1.602,-4.4],[1.636,-7.0],[1.671,-4.3],[1.707,-6.0],[1.744,-4.2],[1.781,-6.5],[1.819,-4.1],[1.858,-5.5],[1.898,-4.0],[1.939,-6.5],[1.980,-3.9],[2.023,-5.0],[2.066,-3.8],[2.110,-5.0],[2.156,-3.7],[2.202,-4.5],[2.249,-3.6],[2.297,-4.5],[2.347,-3.5],[2.397,-4.2],[2.448,-3.4],[2.500,-4.0]];
const UU_bt = [[0.300,-2.55],[0.334,-3.2],[0.395,-3.4],[0.421,-3.0],[0.510,-2.5],[0.604,-2.5],[0.672,-2.7],[0.716,-2.95],[0.866,-3.25],[1.071,-3.55],[1.269,-3.75],[1.472,-3.5],[1.819,-3.25],[2.249,-2.95],[2.448,-2.9],[2.500,-2.5]];
const UU_bb = [[0.300,-3],[0.313,-6.5],[0.327,-7.25],[0.387,-7.25],[0.406,-4],[0.410,null],
  [0.716,-3.3],[0.731,-5.5],[0.747,-4.3],[0.763,-7.25],[0.779,-4.3],[0.796,-6.5],[0.813,-4.4],[0.830,-7.25],[0.848,-4.5],[0.866,-7.0],[0.885,-4.5],[0.904,-7.25],[0.923,-4.6],[0.943,-7.25],[0.963,-4.7],[0.984,-6.8],[1.005,-4.8],[1.026,-7.25],[1.048,-4.8],[1.071,-7.25],[1.094,-4.8],[1.117,-6.8],[1.141,-4.8],[1.166,-7.25],[1.191,-4.8],[1.216,-7.25],[1.242,-4.8],[1.269,-7.0],[1.296,-4.8],[1.324,-7.25],[1.352,-4.7],[1.381,-7.25],[1.411,-4.6],[1.441,-6.8],[1.472,-4.5],[1.503,-7.25],[1.535,-4.4],[1.568,-7.0],[1.602,-4.3],[1.636,-7.25],[1.671,-4.2],[1.707,-7.25],[1.744,-4.1],[1.781,-7.0],[1.819,-4.0],[1.858,-7.25],[1.898,-3.9],[1.939,-6.0],[1.980,-3.8],[2.023,-7.0],[2.066,-3.7],[2.110,-6.2],[2.156,-3.6],[2.202,-6.5],[2.249,-3.5],[2.297,-7.0],[2.347,-3.4],[2.397,-6.0],[2.448,-3.3],[2.500,-6.0]];

const VU_t = [[0.300,-6.9],[0.306,-7.1],[0.311,-10],[0.316,-7.1],[0.330,-6.75],[0.341,-6.9],[0.352,-7.3],[0.367,-7.2],[0.375,-7.8],[0.379,-10],[0.384,-7.6],[0.395,-7.2],[0.408,-7.5],[0.416,-7.6],[0.430,-7.6],[0.440,-7.5],[0.458,-6.8],[0.489,-6.6],[0.521,-6.7],[0.567,-6.75],[0.604,-7.0],[0.623,-7.6],[0.630,-10],[0.637,-7.6],[0.657,-6.85],[0.716,-6.6],[0.763,-6.75],[0.813,-7.3],[0.830,-10],[0.848,-7.3],[0.904,-7.0],[1.071,-7.1],[1.324,-6.95],[1.636,-6.95],[2.023,-7.05],[2.297,-7.3],[2.448,-7.6],[2.500,-8.1]];
const VU_b = [[0.412,-7.6],[0.416,-10],[0.430,-10],[0.434,-7.6]];

const IV_rt = [[0.300,-3.2],[0.313,-3.5],[0.322,-5.0],[0.327,-7.5],[0.332,-5.0],[0.337,-3.6],[0.342,-3.45],[0.352,-3.7],[0.359,-5.0],[0.362,-8.4],[0.365,-5.0],[0.371,-3.7],[0.383,-3.55],[0.395,-3.8],[0.404,-4.5],[0.410,-7.5],[0.416,-4.5],[0.425,-4.3],[0.435,-4.6],[0.440,-8.0],[0.444,-4.6],[0.453,-4.0],[0.468,-3.4],[0.499,-3.1],[0.532,-3.05],[0.555,-3.15],[0.579,-3.5],[0.604,-4.5],[0.624,-6.1],[0.644,-5.0],[0.672,-4.5],[0.701,-4.7],[0.747,-6.0],[0.763,-9.6],[0.779,-6.0],[0.813,-5.0],[0.866,-4.6],[0.923,-4.3],[1.005,-4.0],[1.071,-3.8],[1.141,-3.75],[1.324,-3.75],[1.535,-3.8],[1.819,-3.8],[2.110,-3.75],[2.500,-3.6]];
const IV_rb = [[0.400,-5],[0.408,-8.0],[0.421,-6.0],[0.430,-8.2],[0.449,-7.0],[0.453,-4.2],[0.457,null],
  [0.731,-5.0],[0.747,-7.0],[0.763,-9.0],[0.779,-6.5],[0.796,-9.5],[0.813,-6.5],[0.830,-8.0],[0.848,-6.5],[0.866,-8.5],[0.885,-6.0],[0.904,-7.0],[0.923,-6.0],[0.943,-8.0],[0.963,-5.5],[0.984,-6.5],[1.005,-5.0],[1.026,-5.0],[1.117,-4.2],[1.324,-4.2],[1.503,-4.3],[1.535,-6.0],[1.568,-5.5],[1.602,-8.0],[1.636,-6.0],[1.671,-7.5],[1.707,-6.0],[1.744,-8.5],[1.781,-6.0],[1.819,-7.5],[1.858,-6.0],[1.898,-8.5],[1.939,-6.0],[1.980,-7.8],[2.023,-6.0],[2.066,-8.2],[2.110,-6.0],[2.156,-7.8],[2.202,-6.0],[2.249,-8.2],[2.297,-6.0],[2.347,-7.5],[2.397,-6.0],[2.448,-8.0],[2.500,-8.5]];
const IV_gt = [[0.300,-3.15],[0.313,-3.45],[0.322,-5.0],[0.327,-7.5],[0.332,-5.0],[0.337,-3.55],[0.342,-3.4],[0.352,-3.65],[0.359,-5.0],[0.362,-8.4],[0.365,-5.0],[0.371,-3.65],[0.383,-3.5],[0.395,-3.75],[0.404,-4.45],[0.410,-7.5],[0.416,-4.45],[0.425,-4.25],[0.435,-4.55],[0.440,-8.0],[0.444,-4.55],[0.453,-3.95],[0.468,-3.35],[0.499,-3.05],[0.532,-3.0],[0.555,-3.3],[0.604,-3.6],[0.701,-3.8],[0.866,-3.7],[1.071,-3.5],[1.324,-3.5],[1.636,-3.5],[2.023,-3.4],[2.500,-3.3]];
const IV_gb = [[0.404,-5],[0.412,-8.2],[0.440,-7.5],[0.453,-4.5],[0.457,null],
  [0.555,-3.5],[0.567,-5.0],[0.579,-6.0],[0.591,-5.0],[0.604,-7.0],[0.617,-5.0],[0.630,-7.5],[0.644,-5.0],[0.657,-7.5],[0.672,-5.0],[0.686,-8.0],[0.701,-5.0],[0.716,-8.0],[0.731,-5.0],[0.747,-10],[0.763,-5.0],[0.779,-8.5],[0.796,-5.0],[0.813,-8.5],[0.830,-5.0],[0.848,-7.5],[0.866,-5.0],[0.885,-8.0],[0.904,-5.0],[0.923,-8.0],[0.943,-5.0],[0.963,-7.2],[0.984,-5.0],[1.005,-7.8],[1.026,-5.0],[1.048,-7.2],[1.071,-5.0],[1.094,-7.8],[1.117,-5.0],[1.141,-7.5],[1.166,-5.0],[1.191,-8.0],[1.216,-5.0],[1.242,-7.5],[1.269,-5.0],[1.296,-8.0],[1.324,-5.0],[1.352,-7.6],[1.381,-5.0],[1.411,-8.3],[1.441,-5.0],[1.472,-7.8],[1.503,-5.0],[1.535,-8.3],[1.568,-5.0],[1.602,-7.8],[1.636,-5.0],[1.671,-8.0],[1.707,-5.0],[1.744,-7.5],[1.781,-5.0],[1.819,-8.0],[1.858,-5.0],[1.898,-8.2],[1.939,-5.0],[1.980,-7.5],[2.023,-5.0],[2.066,-8.2],[2.110,-5.0],[2.156,-7.8],[2.202,-5.0],[2.249,-7.8],[2.297,-5.0],[2.347,-8.0],[2.397,-5.0],[2.448,-7.8],[2.500,-8.0]];
const IV_bt = [[0.300,-3.1],[0.313,-3.4],[0.322,-5.0],[0.327,-7.5],[0.332,-5.0],[0.337,-3.5],[0.342,-3.35],[0.352,-3.6],[0.359,-5.0],[0.362,-8.4],[0.365,-5.0],[0.371,-3.6],[0.383,-3.45],[0.395,-3.7],[0.404,-4.4],[0.410,-7.5],[0.416,-4.4],[0.425,-4.2],[0.435,-4.5],[0.440,-8.0],[0.444,-4.5],[0.453,-3.9],[0.468,-3.3],[0.499,-3.0],[0.532,-2.95],[0.543,-3.1],[0.604,-3.3],[0.701,-3.45],[0.866,-3.35],[1.071,-3.15],[1.324,-3.1],[1.636,-3.0],[2.023,-2.9],[2.249,-2.8],[2.347,-2.7],[2.500,-2.9]];
const IV_bb = [[0.404,-5],[0.412,-8.5],[0.440,-8.75],[0.458,-4.5],[0.462,null],
  [0.543,-3.5],[0.555,-5.0],[0.567,-6.5],[0.579,-4.5],[0.591,-6.8],[0.604,-4.5],[0.617,-6.8],[0.630,-4.5],[0.644,-7.0],[0.657,-4.5],[0.672,-7.5],[0.686,-4.5],[0.701,-7.5],[0.716,-4.5],[0.731,-7.0],[0.747,-4.5],[0.763,-7.0],[0.779,-4.5],[0.796,-7.5],[0.813,-4.5],[0.830,-7.5],[0.848,-4.5],[0.866,-7.5],[0.885,-4.5],[0.904,-7.2],[0.923,-4.5],[0.943,-7.2],[0.963,-4.5],[0.984,-7.6],[1.005,-4.3],[1.026,-7.6],[1.048,-4.3],[1.071,-7.2],[1.094,-4.3],[1.117,-7.2],[1.141,-4.3],[1.166,-7.4],[1.191,-4.3],[1.216,-7.4],[1.242,-4.3],[1.269,-7.3],[1.296,-4.3],[1.324,-7.3],[1.352,-4.3],[1.381,-7.8],[1.411,-4.3],[1.441,-7.3],[1.472,-4.3],[1.503,-7.8],[1.535,-4.3],[1.568,-7.3],[1.602,-4.3],[1.636,-7.8],[1.671,-4.3],[1.707,-7.5],[1.744,-4.2],[1.781,-8.0],[1.819,-4.2],[1.858,-7.5],[1.898,-4.2],[1.939,-8.0],[1.980,-4.2],[2.023,-7.8],[2.066,-4.0],[2.110,-8.0],[2.156,-4.0],[2.202,-7.8],[2.249,-4.0],[2.297,-8.0],[2.347,-4.0],[2.397,-7.5],[2.448,-9.7],[2.500,-8]];

const QV_rt = [[0.300,-3.1],[0.313,-3.3],[0.323,-4.5],[0.327,-7.5],[0.330,-4.5],[0.341,-3.5],[0.352,-3.4],[0.363,-4.0],[0.367,-7.8],[0.371,-4.0],[0.383,-3.6],[0.395,-4.0],[0.399,-7.5],[0.404,-4.0],[0.416,-3.8],[0.425,-4.2],[0.430,-7.8],[0.435,-4.2],[0.449,-3.6],[0.478,-3.2],[0.510,-3.05],[0.532,-3.0],[0.567,-3.2],[0.617,-3.6],[0.701,-3.9],[0.763,-4.3],[0.813,-4.8],[0.866,-4.6],[0.963,-4.0],[1.071,-3.75],[1.191,-3.7],[1.472,-3.75],[1.819,-3.8],[2.249,-3.75],[2.500,-3.6]];
const QV_rb = [[0.303,-4],[0.310,-6.5],[0.316,-5.5],[0.320,-4.0],[0.323,null],[0.383,-4],[0.387,-6.5],[0.395,-7.8],[0.412,-6.0],[0.421,-7.0],[0.440,-7.5],[0.449,-4.0],[0.453,null],
  [0.763,-5.0],[0.779,-6.0],[0.796,-7.0],[0.813,-6.5],[0.830,-9.0],[0.848,-6.5],[0.866,-8.0],[0.885,-6.5],[0.904,-8.5],[0.923,-6.0],[0.943,-7.0],[0.963,-5.5],[0.984,-5.0],[1.026,-4.2],[1.324,-4.2],[1.503,-4.3],[1.535,-5.5],[1.568,-6.5],[1.602,-5.8],[1.636,-8.0],[1.671,-6.0],[1.707,-7.5],[1.744,-6.0],[1.781,-8.5],[1.819,-6.0],[1.858,-8.0],[1.898,-6.0],[1.939,-8.5],[1.980,-6.0],[2.023,-8.0],[2.066,-6.0],[2.110,-9.0],[2.156,-9.8],[2.202,-6.0],[2.249,-8.0],[2.297,-6.0],[2.347,-8.5],[2.397,-6.0],[2.448,-7.5],[2.500,-6.5]];
const QV_gt = [[0.300,-3.05],[0.313,-3.25],[0.323,-4.5],[0.327,-7.5],[0.330,-4.5],[0.341,-3.45],[0.352,-3.35],[0.363,-3.95],[0.367,-7.8],[0.371,-3.95],[0.383,-3.55],[0.395,-3.95],[0.399,-7.5],[0.404,-3.95],[0.416,-3.75],[0.425,-4.15],[0.430,-7.8],[0.435,-4.15],[0.449,-3.55],[0.478,-3.15],[0.532,-2.95],[0.555,-3.25],[0.630,-3.5],[0.779,-3.7],[0.963,-3.55],[1.191,-3.4],[1.472,-3.35],[1.819,-3.3],[2.249,-3.2],[2.500,-3.1]];
const QV_gb = [[0.383,-4],[0.395,-7.5],[0.421,-7.8],[0.449,-4.0],[0.453,null],
  [0.591,-4],[0.604,-5.0],[0.617,-6.5],[0.630,-5.0],[0.644,-7.0],[0.657,-5.0],[0.672,-7.5],[0.686,-5.0],[0.701,-7.5],[0.716,-5.0],[0.731,-7.8],[0.747,-5.0],[0.763,-8.0],[0.779,-5.0],[0.796,-7.5],[0.813,-5.0],[0.830,-8.0],[0.848,-5.0],[0.866,-8.5],[0.885,-5.0],[0.904,-8.0],[0.923,-5.0],[0.943,-7.5],[0.963,-5.0],[0.984,-7.0],[1.005,-5.0],[1.026,-7.5],[1.048,-5.0],[1.071,-7.0],[1.094,-5.0],[1.117,-7.8],[1.141,-5.0],[1.166,-7.2],[1.191,-5.0],[1.216,-7.5],[1.242,-5.0],[1.269,-7.8],[1.296,-5.0],[1.324,-8.0],[1.352,-5.0],[1.381,-7.8],[1.411,-5.0],[1.441,-8.5],[1.472,-5.0],[1.503,-7.5],[1.535,-5.0],[1.568,-7.5],[1.602,-5.0],[1.636,-8.0],[1.671,-5.0],[1.707,-8.0],[1.744,-5.0],[1.781,-8.5],[1.819,-5.0],[1.858,-8.7],[1.898,-5.0],[1.939,-8.0],[1.980,-5.0],[2.023,-8.0],[2.066,-5.0],[2.110,-8.5],[2.156,-5.0],[2.202,-8.5],[2.249,-5.0],[2.297,-7.5],[2.347,-5.0],[2.397,-7.5],[2.448,-5.0],[2.500,-7.0]];
const QV_bt = [[0.300,-3.0],[0.313,-3.2],[0.323,-4.5],[0.327,-7.5],[0.330,-4.5],[0.341,-3.4],[0.352,-3.3],[0.363,-3.9],[0.367,-7.8],[0.371,-3.9],[0.383,-3.5],[0.395,-3.9],[0.399,-7.5],[0.404,-3.9],[0.416,-3.7],[0.425,-4.1],[0.430,-7.8],[0.435,-4.1],[0.449,-3.5],[0.478,-3.1],[0.532,-2.9],[0.551,-2.4],[0.567,-2.95],[0.630,-3.15],[0.779,-3.3],[0.963,-3.2],[1.191,-3.1],[1.472,-3.05],[1.819,-3.0],[2.249,-2.85],[2.500,-2.7]];
const QV_bb = [[0.383,-4],[0.395,-7.8],[0.421,-8.0],[0.449,-4],[0.453,null],
  [0.555,-4],[0.567,-6.0],[0.579,-4.3],[0.591,-6.5],[0.604,-4.3],[0.617,-6.5],[0.630,-4.3],[0.644,-7.2],[0.657,-4.3],[0.672,-7.0],[0.686,-4.3],[0.701,-7.0],[0.716,-4.3],[0.731,-7.6],[0.747,-4.3],[0.763,-7.6],[0.779,-4.5],[0.796,-7.4],[0.813,-4.5],[0.830,-7.4],[0.848,-4.5],[0.866,-7.8],[0.885,-4.5],[0.904,-7.8],[0.923,-4.5],[0.943,-7.0],[0.963,-4.3],[0.984,-7.8],[1.005,-4.3],[1.026,-7.0],[1.048,-4.3],[1.071,-7.0],[1.094,-4.3],[1.117,-7.5],[1.141,-4.3],[1.166,-7.5],[1.191,-4.3],[1.216,-7.8],[1.242,-4.3],[1.269,-7.5],[1.296,-4.3],[1.324,-7.8],[1.352,-4.3],[1.381,-7.5],[1.411,-4.3],[1.441,-7.8],[1.472,-4.3],[1.503,-7.5],[1.535,-4.3],[1.568,-8.2],[1.602,-4.3],[1.636,-7.5],[1.671,-4.3],[1.707,-8.2],[1.744,-4.2],[1.781,-7.6],[1.819,-4.2],[1.858,-8.2],[1.898,-4.2],[1.939,-7.6],[1.980,-4.2],[2.023,-8.0],[2.066,-4.0],[2.110,-7.6],[2.156,-4.0],[2.202,-8.0],[2.249,-4.0],[2.297,-8.0],[2.347,-4.0],[2.397,-7.5],[2.448,-4.0],[2.500,-7.5]];

const UV_rt = [[0.300,-3.1],[0.313,-3.3],[0.323,-4.0],[0.327,-7.5],[0.330,-4.0],[0.337,-3.4],[0.341,-4.0],[0.344,-6.5],[0.348,-4.0],[0.356,-3.5],[0.359,-4.5],[0.363,-8.4],[0.367,-4.5],[0.375,-3.6],[0.379,-4.5],[0.384,-9.0],[0.389,-4.5],[0.399,-3.7],[0.412,-3.8],[0.421,-4.5],[0.425,-7.4],[0.430,-4.5],[0.449,-3.8],[0.468,-3.6],[0.483,-4.5],[0.494,-8.9],[0.505,-4.5],[0.521,-3.6],[0.549,-2.85],[0.567,-2.8],[0.604,-2.85],[0.644,-3.0],[0.701,-3.25],[0.763,-3.4],[0.830,-3.3],[0.904,-3.25],[0.984,-3.25],[1.117,-3.35],[1.242,-3.55],[1.381,-3.75],[1.636,-3.75],[2.023,-3.7],[2.500,-3.5]];
const UV_rb = [[0.300,-4],[0.306,-6.0],[0.313,-5.0],[0.316,-6.8],[0.334,-7.0],[0.341,-5.5],[0.352,-8.0],[0.363,-5.5],[0.371,-7.5],[0.387,-6.0],[0.393,-8.2],[0.408,-7.0],[0.421,-5.5],[0.430,-7.0],[0.449,-5.5],[0.458,-6.5],[0.468,-4.0],[0.472,null],[0.548,-3.0],[0.551,-5.5],[0.554,-3.0],[0.558,null],
  [0.701,-3.6],[0.716,-5.5],[0.731,-7.0],[0.747,-6.0],[0.763,-7.6],[0.779,-6.0],[0.796,-7.3],[0.813,-6.0],[0.830,-7.5],[0.848,-6.0],[0.866,-7.5],[0.885,-6.0],[0.904,-6.5],[0.923,-5.0],[0.933,-4.0],[0.940,null],
  [1.269,-4.0],[1.296,-5.5],[1.324,-7.0],[1.352,-6.0],[1.381,-7.8],[1.411,-6.0],[1.441,-8.6],[1.472,-6.0],[1.503,-8.6],[1.535,-6.0],[1.568,-7.5],[1.602,-6.0],[1.636,-8.0],[1.671,-6.0],[1.707,-8.0],[1.744,-6.0],[1.781,-7.2],[1.819,-6.0],[1.858,-8.0],[1.898,-6.0],[1.939,-8.0],[1.980,-6.0],[2.023,-7.5],[2.066,-6.0],[2.110,-8.3],[2.156,-6.0],[2.202,-8.3],[2.249,-6.0],[2.297,-7.5],[2.347,-6.0],[2.397,-8.0],[2.448,-6.0],[2.500,-8.7]];
const UV_gt = [[0.300,-3.05],[0.313,-3.25],[0.323,-4.0],[0.327,-7.5],[0.330,-4.0],[0.337,-3.35],[0.341,-4.0],[0.344,-6.5],[0.348,-4.0],[0.356,-3.45],[0.359,-4.5],[0.363,-8.4],[0.367,-4.5],[0.375,-3.55],[0.379,-4.5],[0.384,-9.0],[0.389,-4.5],[0.399,-3.65],[0.412,-3.75],[0.421,-4.5],[0.425,-7.4],[0.430,-4.5],[0.449,-3.75],[0.468,-3.55],[0.483,-4.5],[0.494,-8.9],[0.505,-4.5],[0.521,-3.55],[0.549,-2.8],[0.567,-2.85],[0.644,-2.95],[0.796,-3.1],[0.984,-3.1],[1.191,-3.2],[1.472,-3.25],[1.858,-3.2],[2.249,-3.15],[2.500,-3.1]];
const UV_gb = [[0.300,-4],[0.313,-7.0],[0.334,-6.5],[0.363,-7.8],[0.387,-7.5],[0.404,-4.0],[0.408,null],
  [0.716,-3.5],[0.731,-5.0],[0.747,-6.5],[0.763,-5.0],[0.779,-7.2],[0.796,-5.0],[0.813,-7.0],[0.830,-5.0],[0.848,-7.0],[0.866,-5.0],[0.885,-7.5],[0.904,-5.0],[0.923,-7.5],[0.943,-5.0],[0.963,-7.0],[0.984,-4.0],[0.990,null],
  [1.216,-3.5],[1.242,-5.0],[1.269,-7.0],[1.296,-5.0],[1.324,-8.0],[1.352,-5.0],[1.381,-7.5],[1.411,-5.0],[1.441,-7.5],[1.472,-5.0],[1.487,-10],[1.503,-5.0],[1.535,-7.5],[1.568,-5.0],[1.602,-8.0],[1.636,-5.0],[1.671,-7.5],[1.707,-5.0],[1.744,-7.5],[1.781,-5.0],[1.819,-7.8],[1.858,-5.0],[1.898,-7.8],[1.939,-5.0],[1.980,-7.0],[2.023,-5.0],[2.066,-7.0],[2.110,-5.0],[2.156,-8.3],[2.202,-5.0],[2.249,-8.3],[2.297,-5.0],[2.347,-7.0],[2.397,-5.0],[2.448,-7.0],[2.500,-7.0]];
const UV_bt = [[0.300,-3.0],[0.313,-3.2],[0.323,-4.0],[0.327,-7.5],[0.330,-4.0],[0.337,-3.3],[0.341,-4.0],[0.344,-6.5],[0.348,-4.0],[0.356,-3.4],[0.359,-4.5],[0.363,-8.4],[0.367,-4.5],[0.375,-3.5],[0.379,-4.5],[0.384,-9.0],[0.389,-4.5],[0.399,-3.6],[0.412,-3.7],[0.421,-4.5],[0.425,-7.4],[0.430,-4.5],[0.449,-3.7],[0.468,-3.5],[0.505,-3.4],[0.540,-3.3],[0.551,-1.9],[0.556,-2.6],[0.591,-2.6],[0.701,-2.7],[0.866,-2.9],[1.071,-2.9],[1.324,-3.05],[1.636,-3.0],[2.023,-2.95],[2.500,-2.95]];
const UV_bb = [[0.440,-4],[0.458,-6.5],[0.468,-5.0],[0.478,-7.5],[0.489,-5.0],[0.494,-9.0],[0.510,-5.0],[0.521,-7.0],[0.532,-4],[0.536,null],
  [0.551,-3.5],[0.555,-4.0],[0.567,-5.5],[0.579,-4.0],[0.591,-6.2],[0.604,-4.0],[0.617,-6.2],[0.630,-4.0],[0.644,-6.8],[0.657,-4.2],[0.672,-7.5],[0.686,-4.2],[0.701,-7.5],[0.716,-4.2],[0.731,-7.0],[0.747,-4.2],[0.763,-7.0],[0.779,-4.2],[0.796,-8.0],[0.813,-4.2],[0.830,-8.0],[0.848,-4.2],[0.866,-7.2],[0.885,-4.2],[0.904,-7.2],[0.923,-4.2],[0.943,-6.5],[0.963,-4.2],[0.984,-6.5],[1.005,-4.2],[1.026,-7.0],[1.048,-4.2],[1.071,-7.0],[1.094,-4.2],[1.117,-7.5],[1.141,-4.2],[1.166,-7.5],[1.191,-4.2],[1.216,-8.5],[1.242,-4.2],[1.269,-8.5],[1.296,-4.2],[1.324,-7.8],[1.352,-4.2],[1.381,-7.8],[1.411,-4.2],[1.441,-8.2],[1.472,-4.2],[1.503,-8.2],[1.535,-4.2],[1.568,-7.5],[1.602,-4.2],[1.636,-7.5],[1.671,-4.2],[1.707,-8.0],[1.744,-4.2],[1.781,-8.0],[1.819,-4.2],[1.858,-7.5],[1.898,-4.2],[1.939,-7.5],[1.980,-4.2],[2.023,-8.6],[2.066,-4.2],[2.110,-8.6],[2.156,-4.0],[2.202,-7.8],[2.249,-4.0],[2.297,-7.8],[2.347,-4.0],[2.397,-7.5],[2.448,-4.0],[2.500,-7.5]];

const VV_rt = [[0.300,-2.65],[0.313,-2.9],[0.320,-3.3],[0.334,-3.4],[0.363,-3.45],[0.379,-3.6],[0.395,-3.4],[0.408,-3.7],[0.412,-6.8],[0.416,-3.7],[0.421,-3.5],[0.426,-6.6],[0.432,-3.5],[0.449,-3.1],[0.478,-3.0],[0.521,-2.85],[0.567,-2.7],[0.591,-2.65],[0.617,-2.75],[0.657,-3.0],[0.701,-3.3],[0.779,-3.6],[0.866,-3.9],[0.963,-4.05],[1.071,-4.1],[1.191,-3.95],[1.324,-3.85],[1.636,-3.8],[2.023,-3.75],[2.347,-3.6],[2.500,-3.5]];
const VV_rb = [[0.313,-3.5],[0.320,-6.0],[0.327,-7.25],[0.371,-7.25],[0.379,-6.5],[0.387,-4.0],[0.391,null],[0.644,-3.2],[0.657,-5.0],[0.686,-7.0],[0.701,-7.25],[0.943,-7.25],[0.963,-6.0],[0.984,-4.5],[1.324,-4.4],[1.441,-4.5],[1.472,-6.5],[1.503,-7.25],[2.110,-7.25],[2.156,-5.0],[2.202,-4.3],[2.448,-4.0],[2.500,-6.0]];
const VV_gt = [[0.300,-2.6],[0.313,-2.85],[0.320,-3.25],[0.334,-3.35],[0.363,-3.4],[0.379,-3.55],[0.395,-3.35],[0.408,-3.65],[0.412,-6.8],[0.416,-3.65],[0.421,-3.45],[0.426,-6.6],[0.432,-3.45],[0.449,-3.05],[0.478,-2.95],[0.543,-2.9],[0.551,-5.4],[0.558,-2.85],[0.591,-2.6],[0.644,-2.9],[0.779,-3.4],[0.963,-3.8],[1.071,-3.7],[1.324,-3.45],[1.636,-3.35],[2.023,-3.3],[2.500,-3.1]];
const VV_gb = [[0.313,-3.5],[0.320,-6.5],[0.327,-7.25],[0.379,-7.25],[0.391,-4],[0.395,null],
  [0.644,-3.2],[0.672,-6.5],[0.701,-7.25],[0.963,-7.25],[0.984,-5.0],[1.005,-7.25],[1.026,-5.0],[1.048,-6.5],[1.071,-5.0],[1.094,-7.25],[1.117,-5.0],[1.141,-6.5],[1.166,-5.0],[1.191,-7.25],[1.216,-5.0],[1.242,-7.25],[1.269,-5.0],[1.296,-7.0],[1.324,-5.0],[1.352,-7.25],[1.381,-5.0],[1.411,-7.25],[1.441,-7.25],[2.156,-7.25],[2.202,-5.0],[2.249,-6.0],[2.297,-4.5],[2.347,-6.0],[2.397,-4.5],[2.448,-5.0],[2.500,-4.5]];
const VV_bt = [[0.300,-2.55],[0.313,-2.8],[0.320,-3.2],[0.334,-3.3],[0.363,-3.35],[0.379,-3.5],[0.395,-3.3],[0.408,-3.6],[0.412,-6.8],[0.416,-3.6],[0.421,-3.4],[0.426,-6.6],[0.432,-3.4],[0.449,-3.0],[0.478,-2.9],[0.567,-2.6],[0.617,-2.65],[0.644,-2.85],[0.779,-3.3],[0.963,-3.6],[1.071,-3.55],[1.324,-3.3],[1.636,-3.2],[2.023,-3.15],[2.448,-3.0],[2.500,-2.4]];
const VV_bb = [[0.313,-3.5],[0.320,-6.8],[0.327,-7.25],[0.387,-7.25],[0.395,-4],[0.399,null],
  [0.644,-3.2],[0.672,-6.8],[0.701,-7.25],[0.963,-7.25],[0.984,-4.5],[1.005,-7.25],[1.026,-4.5],[1.048,-7.25],[1.071,-4.5],[1.094,-6.8],[1.117,-4.5],[1.141,-7.25],[1.166,-4.5],[1.191,-7.25],[1.216,-4.5],[1.242,-6.8],[1.269,-4.5],[1.296,-7.25],[1.324,-4.5],[1.352,-7.25],[1.381,-4.5],[1.411,-7.0],[1.441,-4.5],[1.472,-7.25],[2.156,-7.25],[2.202,-4.2],[2.249,-7.0],[2.297,-4.2],[2.347,-7.25],[2.397,-4.0],[2.448,-6.8],[2.500,-7.0]];

// per panel: [red top, red bottom, green top, green bottom, blue top, blue bottom]
const PANELS = [
  null,
  [QI_rt, QI_rb, QI_gt, QI_gb, QI_bt, QI_bb],
  [UI_rt, UI_rb, UI_gt, UI_gb, UI_bt, UI_bb],
  [VI_rt, VI_rb, VI_gt, VI_gb, VI_bt, VI_bb],
  [IQ_rt, IQ_rb, IQ_gt, IQ_gb, IQ_bt, IQ_bb],
  [QQ_rt, QQ_rb, QQ_gt, QQ_gb, QQ_bt, QQ_bb],
  [UQ_rt, UQ_rb, UQ_gt, UQ_gb, UQ_bt, UQ_bb],
  [VQ_t, null, VQ_t, null, VQ_t, null],
  [IU_t, IU_rb, IU_t, IU_gb, IU_t, IU_bb],
  [QU_rt, QU_rb, QU_gt, QU_gb, QU_bt, QU_bb],
  [UU_rt, UU_rb, UU_gt, UU_gb, UU_bt, UU_bb],
  [VU_t, VU_b, VU_t, null, VU_t, null],
  [IV_rt, IV_rb, IV_gt, IV_gb, IV_bt, IV_bb],
  [QV_rt, QV_rb, QV_gt, QV_gb, QV_bt, QV_bb],
  [UV_rt, UV_rb, UV_gt, UV_gb, UV_bt, UV_bb],
  [VV_rt, VV_rb, VV_gt, VV_gb, VV_bt, VV_bb]
];

const COLORS = ['rgb(237,28,36)', 'rgb(104,187,69)', 'rgb(57,83,164)'];
const TOP_WIDTH = [2.4, 3.0, 3.6];
const PX = [38, 326, 613, 901], PY = [30, 200, 370, 540], PW = 265, PH = 148;
const PAD = {left: 40, right: 16, top: 14, bottom: 44};
const FONT = '"Liberation Sans", Arial, sans-serif';

function pts(arr) {
  return arr.map(p => ({x: p[0], y: p[1] === null ? null : Math.pow(10, p[1])}));
}

const frame = {
  id: 'frame',
  afterDraw(chart, args, opts) {
    const ctx = chart.ctx, a = chart.chartArea, xs = chart.scales.x, ys = chart.scales.y;
    ctx.save();
    ctx.strokeStyle = '#222';
    ctx.lineWidth = 1;
    ctx.strokeRect(a.left + 0.5, a.top + 0.5, a.right - a.left - 1, a.bottom - a.top - 1);
    ctx.beginPath();
    XTICKS.forEach(v => {
      const px = Math.round(xs.getPixelForValue(v)) + 0.5;
      ctx.moveTo(px, a.bottom); ctx.lineTo(px, a.bottom - 3);
      ctx.moveTo(px, a.top); ctx.lineTo(px, a.top + 3);
    });
    YTICK_EXP.forEach(e => {
      const py = Math.round(ys.getPixelForValue(Math.pow(10, e))) + 0.5;
      ctx.moveTo(a.left, py); ctx.lineTo(a.left + 3, py);
      ctx.moveTo(a.right, py); ctx.lineTo(a.right - 3, py);
    });
    ctx.stroke();

    ctx.fillStyle = '#222';
    ctx.textBaseline = 'middle';
    ctx.font = '11.5px ' + FONT;
    ctx.textAlign = 'left';
    ctx.fillText(opts.label, a.left + 17, a.top + 17);

    if (opts.col === 0) {
      YTICK_EXP.forEach(e => {
        const py = ys.getPixelForValue(Math.pow(10, e));
        const ex = e === 0 ? '0' : '\u2212' + (-e);
        ctx.font = '8px ' + FONT;
        ctx.textAlign = 'left';
        const w = ctx.measureText(ex).width;
        const xr = a.left - 6;
        ctx.fillText(ex, xr - w, py - 4);
        ctx.font = '11px ' + FONT;
        ctx.textAlign = 'right';
        ctx.fillText('10', xr - w, py + 1);
      });
    }
    if (opts.row === 3) {
      ctx.font = '11.5px ' + FONT;
      ctx.textAlign = 'center';
      XLABELS.forEach(v => ctx.fillText(String(v), xs.getPixelForValue(v), a.bottom + 12));
      ctx.font = '11px ' + FONT;
      ctx.fillText('wavelength [\u03bcm]', (a.left + a.right) / 2, a.bottom + 26);
    }
    ctx.restore();
  }
};

for (let i = 0; i < 16; i++) {
  const r = Math.floor(i / 4), c = i % 4;
  const cv = document.createElement('canvas');
  cv.width = PAD.left + PW + PAD.right;
  cv.height = PAD.top + PH + PAD.bottom;
  cv.style.left = (PX[c] - PAD.left) + 'px';
  cv.style.top = (PY[r] - PAD.top) + 'px';
  document.body.appendChild(cv);

  const datasets = [];
  if (DASH_EXP[i] !== null) {
    const v = Math.pow(10, DASH_EXP[i]);
    datasets.push({data: [{x: 0.3, y: v}, {x: 2.5, y: v}], borderColor: '#111', borderWidth: 1.1,
                   borderDash: [6, 4], fill: false});
  }
  const set = PANELS[i];
  if (set) {
    for (let s = 0; s < 3; s++) {
      const top = set[s * 2], bot = set[s * 2 + 1];
      datasets.push({data: pts(top), borderColor: COLORS[s], borderWidth: TOP_WIDTH[s], fill: false});
      if (bot) {
        datasets.push({data: pts(bot), borderColor: COLORS[s], backgroundColor: COLORS[s],
                       borderWidth: 1, fill: '-1'});
      }
    }
  }

  new Chart(cv, {
    type: 'line',
    data: {datasets: datasets},
    options: {
      responsive: false,
      animation: false,
      events: [],
      layout: {padding: PAD},
      elements: {point: {radius: 0}, line: {tension: 0, borderJoinStyle: 'round'}},
      plugins: {
        legend: {display: false},
        tooltip: {enabled: false},
        frame: {label: LABELS[i], row: r, col: c}
      },
      scales: {
        x: {type: 'logarithmic', min: 0.3, max: 2.5, display: false},
        y: {type: 'logarithmic', min: 1e-10, max: 10, display: false}
      }
    },
    plugins: [frame]
  });
}
</script>
</body>
</html>
